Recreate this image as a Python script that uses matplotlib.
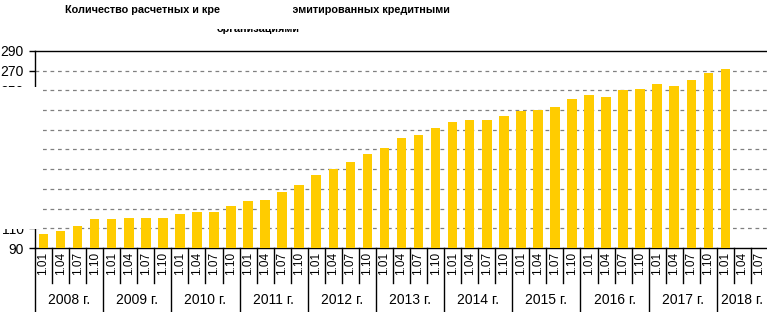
import numpy as np
import matplotlib
matplotlib.use("Agg")
import matplotlib.pyplot as plt
import matplotlib.transforms as mtransforms
from matplotlib.patches import Rectangle
from matplotlib import font_manager

# -------------------------
# Data
# -------------------------
years = ['2008 г.', '2009 г.', '2010 г.', '2011 г.', '2012 г.', '2013 г.',
         '2014 г.', '2015 г.', '2016 г.', '2017 г.', '2018 г.']
quarters = ['1.01', '1.04', '1.07', '1.10']
cards = [104, 107, 112, 119, 119, 120, 120, 120,
         125, 127, 127, 133, 138, 139, 147, 154,
         164, 170, 177, 185, 192, 201.5, 205, 212,
         218, 220, 220, 224, 229, 230, 233.5, 241,
         245, 243, 250, 251.5, 256, 254, 260.6, 268,
         272]
yticks = [90, 110, 130, 150, 170, 190, 210, 230, 250, 270, 290]
title_lines = ["Количество расчетных и кредитных карт, эмитированных кредитными",
               "организациями"]

# categories: 10 full years + 3 quarters of 2018
cat_labels = quarters * 10 + quarters[:3]
n_cat = len(cat_labels)
year_sizes = [4] * 10 + [3]

names = {f.name for f in font_manager.fontManager.ttflist}
base_font = 'Liberation Sans' if 'Liberation Sans' in names else 'DejaVu Sans'
plt.rcParams['font.family'] = base_font

W, H = 767, 312
fig = plt.figure(figsize=(W / 100, H / 100), dpi=100)
ax = fig.add_axes([35 / W, 64 / H, 733 / W, 197 / H])

# -------------------------
# Bars
# -------------------------
x = np.arange(len(cards))
ax.bar(x, cards, width=0.56, color='#FFCC00', zorder=3)

ax.set_xlim(-0.5, n_cat - 0.5)
ax.set_ylim(90, 290)
ax.set_yticks(yticks)
ax.set_yticklabels([str(v) for v in yticks], fontsize=10)
ax.tick_params(axis='y', direction='out', length=4, width=1, pad=4, colors='black')
for v in yticks[1:-1]:
    ax.axhline(v, color='#808080', linestyle=(0, (3, 3)), lw=0.9, zorder=1)

for side in ['left', 'bottom', 'top']:
    ax.spines[side].set_color('black')
    ax.spines[side].set_linewidth(1)
ax.spines['right'].set_visible(False)

# quarter labels
ax.set_xticks(np.arange(n_cat))
ax.set_xticklabels(cat_labels, rotation=90, fontsize=8.5, va='top')
ax.tick_params(axis='x', length=0, pad=3)

# separators below axis
trans = mtransforms.blended_transform_factory(ax.transData, ax.transAxes)
bounds = np.arange(n_cat) - 0.5
year_starts = np.cumsum([0] + year_sizes[:-1])
for b in range(n_cat):
    depth = -64 / 197 if b in year_starts else -35 / 197
    ax.plot([bounds[b], bounds[b]], [0, depth], color='black', lw=1,
            transform=trans, clip_on=False)

# year labels
for start, size, name in zip(year_starts, year_sizes, years):
    ax.text(start + (size - 1) / 2, -52 / 197, name, transform=trans,
            ha='center', va='center', fontsize=10)

# title (two lines)
fig.text(257 / W, 1 - 13 / H, title_lines[0], ha='center', va='baseline',
         fontsize=7.8, fontweight='bold')
fig.text(258 / W, 1 - 32 / H, title_lines[1], ha='center', va='baseline',
         fontsize=7.8, fontweight='bold')

# white blocks that hide parts of the chart in the reference
fig.add_artist(Rectangle((0, 1 - 228.5 / H), 41 / W, (228.5 - 87) / H,
                         transform=fig.transFigure, facecolor='white',
                         edgecolor='none', zorder=10))
fig.add_artist(Rectangle((220 / W, 1 - 17 / H), 73 / W, 17 / H,
                         transform=fig.transFigure, facecolor='white',
                         edgecolor='none', zorder=10))
fig.add_artist(Rectangle((200 / W, 1 - 29 / H), 110 / W, 12 / H,
                         transform=fig.transFigure, facecolor='white',
                         edgecolor='none', zorder=10))

fig.savefig('out.png', dpi=100)
